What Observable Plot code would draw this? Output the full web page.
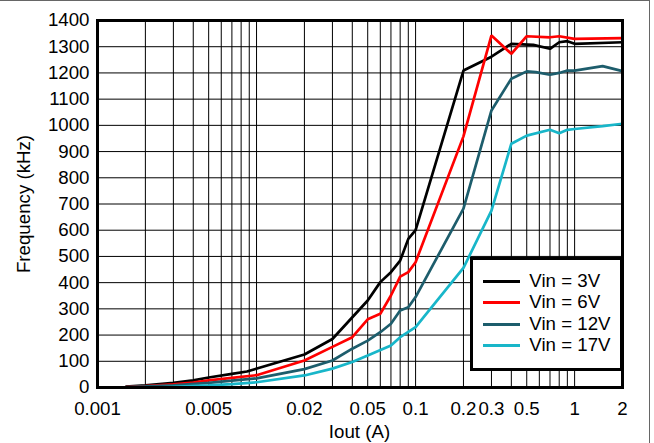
<!DOCTYPE html>
<html>
<head>
<meta charset="utf-8">
<script src="https://cdn.jsdelivr.net/npm/d3@7"></script>
<script src="https://cdn.jsdelivr.net/npm/@observablehq/plot@0.6"></script>
<style>
  html, body { margin: 0; padding: 0; background: #fff; }
  #wrap { position: relative; width: 654px; height: 443px; overflow: hidden; font-family: "Liberation Sans", Arial, sans-serif; }
  #outer { position: absolute; left: -2px; top: 0; width: 652px; height: 450px; border-top: 1px solid #666; border-right: 1px solid #666; box-sizing: border-box; pointer-events: none; }
  .lbl { position: absolute; font-size: 18.7px; color: #000; white-space: nowrap; line-height: 1; }
  #legend { position: absolute; left: 470px; top: 257px; width: 153px; height: 114px; border: 3px solid #000; background: #fff; box-sizing: border-box; }
  .lg-line { position: absolute; height: 3px; width: 37px; }
  .lg-text { position: absolute; font-size: 18.7px; line-height: 1; white-space: nowrap; }
</style>
</head>
<body>
<div id="wrap"></div>
<script>
// ---- Data ----
const seriesNames = ["Vin = 3V", "Vin = 6V", "Vin = 12V", "Vin = 17V"];
const seriesColors = ["#000000", "#ff0000", "#1d5d6c", "#18b6c9"];

const iout3 = [0.0015, 0.002, 0.003, 0.004, 0.005, 0.007, 0.0087, 0.02, 0.03, 0.05, 0.06, 0.07, 0.08, 0.09, 0.1, 0.2, 0.3, 0.4, 0.55, 0.7, 0.8, 0.9, 1, 2];
const freq3 = [3, 8, 18, 27, 38, 52, 61, 126, 185, 332, 402, 440, 484, 567, 600, 1209, 1262, 1311, 1307, 1292, 1317, 1321, 1311, 1317];

const iout6 = [0.0015, 0.002, 0.003, 0.004, 0.005, 0.007, 0.01, 0.02, 0.03, 0.04, 0.05, 0.06, 0.07, 0.08, 0.09, 0.1, 0.2, 0.3, 0.4, 0.5, 0.7, 0.8, 1, 2];
const freq6 = [2, 5, 12, 19, 27, 37, 47, 103, 155, 192, 260, 281, 351, 423, 440, 478, 958, 1343, 1273, 1340, 1336, 1340, 1330, 1333];

const iout12 = [0.0015, 0.002, 0.003, 0.005, 0.007, 0.01, 0.02, 0.03, 0.04, 0.05, 0.06, 0.07, 0.08, 0.09, 0.1, 0.2, 0.3, 0.4, 0.5, 0.57, 0.7, 0.8, 0.9, 1, 1.5, 2];
const freq12 = [2, 4, 8, 18, 26, 35, 70, 103, 148, 179, 211, 243, 294, 306, 345, 682, 1057, 1178, 1206, 1203, 1193, 1200, 1209, 1209, 1226, 1207];

const iout17 = [0.0025, 0.005, 0.007, 0.01, 0.02, 0.03, 0.04, 0.05, 0.07, 0.08, 0.1, 0.2, 0.3, 0.4, 0.5, 0.7, 0.8, 0.9, 1, 1.5, 2];
const freq17 = [1, 8, 13, 20, 46, 72, 97, 122, 160, 192, 230, 456, 675, 930, 961, 983, 970, 983, 986, 997, 1006];

const xTickValues = [0.001, 0.005, 0.02, 0.05, 0.1, 0.2, 0.3, 0.5, 1, 2];
const xTickLabels = ["0.001", "0.005", "0.02", "0.05", "0.1", "0.2", "0.3", "0.5", "1", "2"];
const yTickValues = [0, 100, 200, 300, 400, 500, 600, 700, 800, 900, 1000, 1100, 1200, 1300, 1400];
const xTitle = "Iout (A)";
const yTitle = "Frequency (kHz)";

// ---- Build tables ----
const ioutAll = [iout3, iout6, iout12, iout17];
const freqAll = [freq3, freq6, freq12, freq17];
const rows = [];
seriesNames.forEach((name, s) => {
  ioutAll[s].forEach((x, i) => rows.push({series: name, x, y: freqAll[s][i]}));
});
const xTicks = xTickValues.map((v, i) => ({v, label: xTickLabels[i]}));

// log grid lines (1..9 per decade up to 2)
const xGrid = [];
for (const d of [0.001, 0.01, 0.1, 1]) {
  for (let m = 1; m <= 9; m++) {
    const v = +(m * d).toPrecision(3);
    if (v <= 2) xGrid.push(v);
  }
}

const W = 654, H = 443;
const chart = Plot.plot({
  width: W,
  height: H,
  marginLeft: 97,
  marginRight: 32,
  marginTop: 20,
  marginBottom: 56,
  style: {fontFamily: "'Liberation Sans', Arial, sans-serif", fontSize: "18.7px", color: "#000", background: "transparent"},
  x: {type: "log", domain: [0.001, 2], axis: null},
  y: {domain: [0, 1400], axis: null},
  color: {domain: seriesNames, range: seriesColors},
  marks: [
    Plot.ruleX(xGrid, {stroke: "#000", strokeWidth: 1}),
    Plot.ruleY(yTickValues, {stroke: "#000", strokeWidth: 1}),
    Plot.line(rows, {x: "x", y: "y", z: "series", stroke: "series", strokeWidth: 2.7, strokeLinejoin: "miter", strokeLinecap: "butt"}),
    Plot.frame({stroke: "#000", strokeWidth: 3}),
    Plot.text(xTicks, {x: "v", text: "label", frameAnchor: "bottom", lineAnchor: "middle", dy: 21.5, fill: "#000", fontSize: 18.7}),
    Plot.text(yTickValues, {y: (d) => d, text: (d) => String(d), frameAnchor: "left", textAnchor: "end", dx: -8, fill: "#000", fontSize: 18.7})
  ]
});

const wrap = document.getElementById("wrap");
chart.style.position = "absolute";
chart.style.left = "0px";
chart.style.top = "0px";
wrap.appendChild(chart);

// outer frame
const outer = document.createElement("div");
outer.id = "outer";
wrap.appendChild(outer);

// axis titles
const xt = document.createElement("div");
xt.className = "lbl";
xt.textContent = xTitle;
xt.style.left = "359.5px";
xt.style.top = "423px";
xt.style.transform = "translateX(-50%)";
wrap.appendChild(xt);

const yt = document.createElement("div");
yt.className = "lbl";
yt.textContent = yTitle;
yt.style.left = "24px";
yt.style.top = "203.5px";
yt.style.transform = "translate(-50%, -50%) rotate(-90deg)";
wrap.appendChild(yt);

// legend
const legend = document.createElement("div");
legend.id = "legend";
wrap.appendChild(legend);
seriesNames.forEach((name, i) => {
  const cy = 281 + i * 21.6 - 257 - 3;
  const ln = document.createElement("div");
  ln.className = "lg-line";
  ln.style.background = seriesColors[i];
  ln.style.left = (482.7 - 470 - 3) + "px";
  ln.style.top = (cy - 1.5) + "px";
  legend.appendChild(ln);
  const tx = document.createElement("div");
  tx.className = "lg-text";
  tx.textContent = name;
  tx.style.left = (529.3 - 470 - 3) + "px";
  tx.style.top = (cy - 9.5) + "px";
  legend.appendChild(tx);
});
</script>
</body>
</html>
